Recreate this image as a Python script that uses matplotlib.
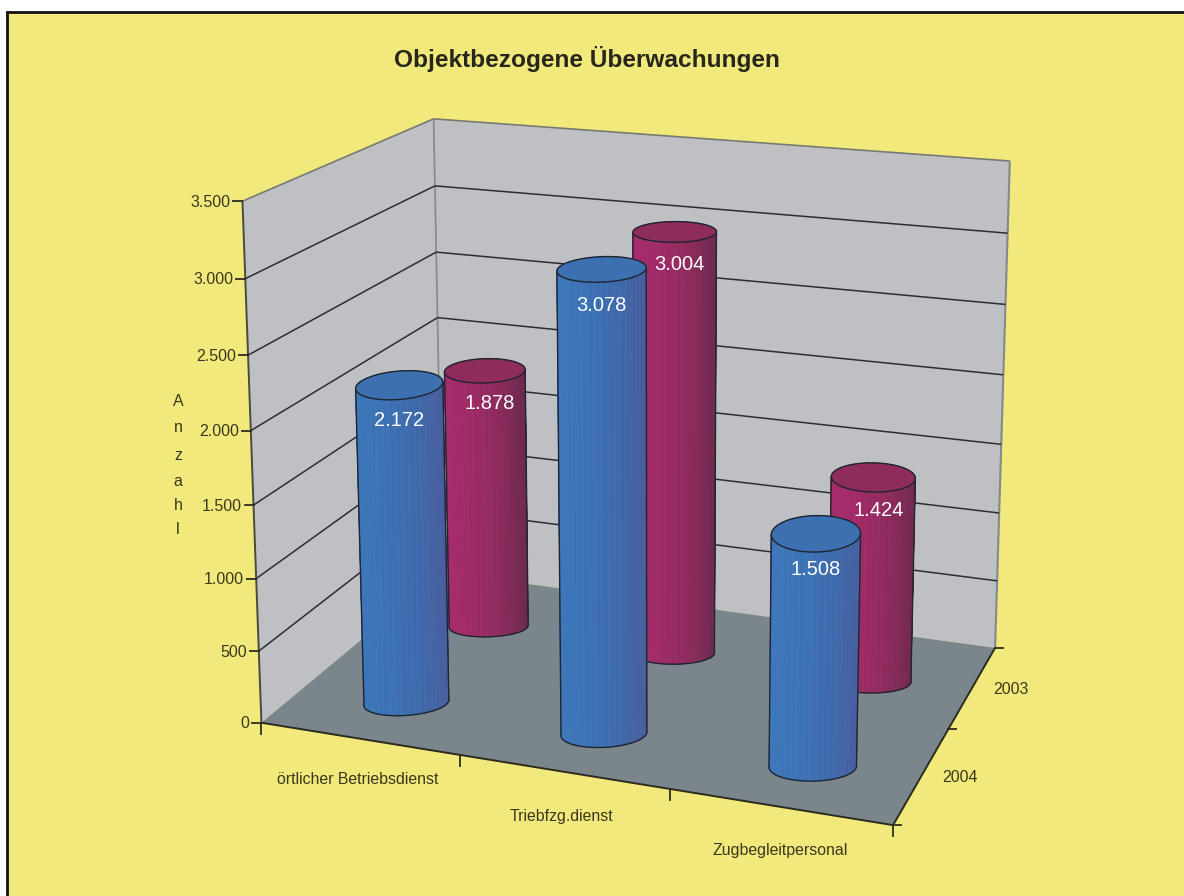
import numpy as np
import matplotlib
matplotlib.use('Agg')
import matplotlib.pyplot as plt
from matplotlib.colors import to_rgb
from matplotlib.patches import Polygon, Rectangle

plt.rcParams['font.family'] = ['Liberation Sans', 'DejaVu Sans']

# Daten
categories = ['örtlicher Betriebsdienst', 'Triebfzg.dienst', 'Zugbegleitpersonal']
years = ['2004', '2003']
values_2004 = [2172, 3078, 1508]
values_2003 = [1878, 3004, 1424]
value_ticks = [0, 500, 1000, 1500, 2000, 2500, 3000, 3500]
tick_labels = ['0', '500', '1.000', '1.500', '2.000', '2.500', '3.000', '3.500']
z_max = 3500

W, H = 1184, 896
YELLOW = '#F2E97C'
WALL = '#BEC0C4'
FLOOR = '#7B858C'
TXT = '#3A381C'
OUTLINE = '#1E2430'

# Kamera aus den Ecken der Box bestimmen (x, Tiefe, z) -> Pixel
corners = [((0, 0, 0), (261, 723)), ((1, 0, 0), (893, 825)), ((1, 1, 0), (995, 648)),
           ((0, 1, 0), (443, 572)), ((0, 0, 1), (243, 201)), ((0, 1, 1), (433, 119)),
           ((1, 1, 1), (1010, 161))]
rows = []
for (X, Y, Z), (u, v) in corners:
    rows.append([X, Y, Z, 1, 0, 0, 0, 0, -u*X, -u*Y, -u*Z, -u])
    rows.append([0, 0, 0, 0, X, Y, Z, 1, -v*X, -v*Y, -v*Z, -v])
cam = np.linalg.svd(np.array(rows))[2][-1].reshape(3, 4)


def proj(x, d, z):
    x, d, z = np.broadcast_arrays(x, d, z)
    p = cam @ np.vstack([x.ravel(), d.ravel(), z.ravel(), np.ones(x.size)])
    return p[0]/p[2], p[1]/p[2]


def line3d(ax, a, b, **kw):
    u, v = proj(np.array([a[0], b[0]]), np.array([a[1], b[1]]), np.array([a[2], b[2]]))
    ax.plot(u, v, solid_capstyle='butt', zorder=3, **kw)


def poly3d(ax, pts, **kw):
    pts = np.array(pts, dtype=float)
    u, v = proj(pts[:, 0], pts[:, 1], pts[:, 2])
    ax.add_patch(Polygon(np.c_[u, v], closed=True, zorder=2, **kw))


def cylinder(ax, cx, cd, value, rx, rd, shades, top_col, label, zo, lab_dx, lab_dy):
    t = np.linspace(0, 2*np.pi, 145)
    x = cx + rx*np.cos(t)
    d = cd + rd*np.sin(t)
    z = value/z_max
    ub, vb = proj(x, d, 0*t)
    ut, vt = proj(x, d, z + 0*t)
    # Bodenellipse flacher, wie im Original
    vb = vb.max() - (vb.max() - vb)*0.65
    left, right = min(ub.min(), ut.min()), max(ub.max(), ut.max())
    stops = np.linspace(0, 1, len(shades))
    cols = np.array([to_rgb(c) for c in shades])
    # hinten zuerst, damit die vordere Seite oben liegt
    order = np.argsort(-np.sin(t[:-1]))
    for i in order:
        f = (0.5*(ub[i]+ub[i+1]) - left)/(right-left)
        ridge = 1.0 + 0.025*np.sin(i*1.9)
        c = [min(1, np.interp(f, stops, cols[:, k])*ridge) for k in range(3)]
        ax.add_patch(Polygon([(ub[i], vb[i]), (ub[i+1], vb[i+1]), (ut[i+1], vt[i+1]), (ut[i], vt[i])],
                             closed=True, fc=c, ec=c, lw=0.5, zorder=zo))
    # Umriss
    il, ir = np.argmin(ub[:-1]), np.argmax(ub[:-1])
    ax.plot([ub[il], ut[il]], [vb[il], vt[il]], color=OUTLINE, lw=1.0, zorder=zo+0.1)
    ax.plot([ub[ir], ut[ir]], [vb[ir], vt[ir]], color=OUTLINE, lw=1.0, zorder=zo+0.1)
    n = (ir - il) % 144
    arc = (il + np.arange(n+1)) % 144
    ax.plot(ub[arc], vb[arc], color=OUTLINE, lw=1.0, zorder=zo+0.1)
    ax.add_patch(Polygon(np.c_[ut, vt], closed=True, fc=top_col, ec=OUTLINE, lw=1.0, zorder=zo+0.2))
    uc, vc = proj(cx, cd, z)
    ax.text(uc[0] + lab_dx, vc[0] + lab_dy, label, color='white', fontsize=14.5, ha='center', va='center',
            zorder=zo+0.3)


fig = plt.figure(figsize=(W/100, H/100), dpi=100, facecolor='white')
ax = fig.add_axes([0, 0, 1, 1])
ax.set_xlim(0, W)
ax.set_ylim(H, 0)
ax.axis('off')

# Hintergrund mit Rahmen links und oben
ax.add_patch(Rectangle((7, 12), W-7, H-12, fc=YELLOW, ec='none', zorder=0))
ax.plot([7, 7, W], [H, 12, 12], color='#111111', lw=2.0, zorder=1, solid_joinstyle='miter')

ax.text(587, 59, 'Objektbezogene Überwachungen', fontsize=17.6, fontweight='bold', color='#26261A',
        ha='center', va='center')

# Waende und Boden
poly3d(ax, [(0, 0, 0), (0, 1, 0), (0, 1, 1), (0, 0, 1)], fc=WALL, ec='none')
poly3d(ax, [(0, 1, 0), (1, 1, 0), (1, 1, 1), (0, 1, 1)], fc=WALL, ec='none')
poly3d(ax, [(0, 0, 0), (1, 0, 0), (1, 1, 0), (0, 1, 0)], fc=FLOOR, ec='none')
line3d(ax, (0, 0, 1), (0, 1, 1), color='#777A70', lw=1.2)
line3d(ax, (0, 1, 1), (1, 1, 1), color='#777A70', lw=1.2)
line3d(ax, (0, 1, 0), (0, 1, 1), color='#85888C', lw=1.2)
line3d(ax, (1, 1, 0), (1, 1, 1), color='#85888C', lw=1.5)
line3d(ax, (0, 0, 0), (0, 0, 1), color='#4A4A3C', lw=1.4)
line3d(ax, (0, 0, 0), (1, 0, 0), color='#2B2B1E', lw=1.4)
line3d(ax, (1, 0, 0), (1, 1, 0), color='#2B2B1E', lw=1.4)

# Gitterlinien und Achsen-Striche
for val, lab in zip(value_ticks, tick_labels):
    z = val/z_max
    if 0 < val < z_max:
        line3d(ax, (0, 0, z), (0, 1, z), color='#2A2E34', lw=1.1)
        line3d(ax, (0, 1, z), (1, 1, z), color='#2A2E34', lw=1.1)
    u, v = proj(0, 0, z)
    ax.plot([u[0]-9, u[0]], [v[0], v[0]], color='#2B2B1E', lw=1.3, zorder=3)
    ax.text(u[0]-12, v[0]+1, lab, color=TXT, fontsize=11.5, ha='right', va='center')

for i in range(4):
    u, v = proj(i/3, 0, 0)
    ax.plot([u[0], u[0]], [v[0], v[0]+11], color='#2B2B1E', lw=1.3, zorder=3)
for i in range(3):
    u, v = proj(1, i/2, 0)
    ax.plot([u[0], u[0]+8], [v[0], v[0]], color='#2B2B1E', lw=1.3, zorder=3)

for lab, px, py in zip(categories, [358, 561, 780], [780, 816, 851]):
    ax.text(px, py, lab, color=TXT, fontsize=11.4, ha='center', va='center')
for lab, px, py in zip(years, [960, 1011], [778, 690]):
    ax.text(px, py, lab, color=TXT, fontsize=11.5, ha='center', va='center')
for ch, py in zip('Anzahl', [401, 428, 455, 481, 506, 530]):
    ax.text(178, py, ch, color=TXT, fontsize=11.5, ha='center', va='center')

# Zylinder
centers = [1/6, 1/2, 5/6]
red = ['#A82E6E', '#A02C68', '#8E2C5E', '#6C2A4E']
blue = ['#3F78BC', '#3D74B6', '#3F6CAE', '#4A5E9E']
for cx, val in zip(centers, values_2003):
    cylinder(ax, cx, 0.735, val, 0.066, 0.105, red, '#8E2C5C', f'{val/1000:.3f}', 5, 5, 33)
for cx, val in zip(centers, values_2004):
    cylinder(ax, cx, 0.25, val, 0.064, 0.115, blue, '#3C70B0', f'{val/1000:.3f}', 6, 0, 36)

fig.savefig('out.png', dpi=100, facecolor='white')
